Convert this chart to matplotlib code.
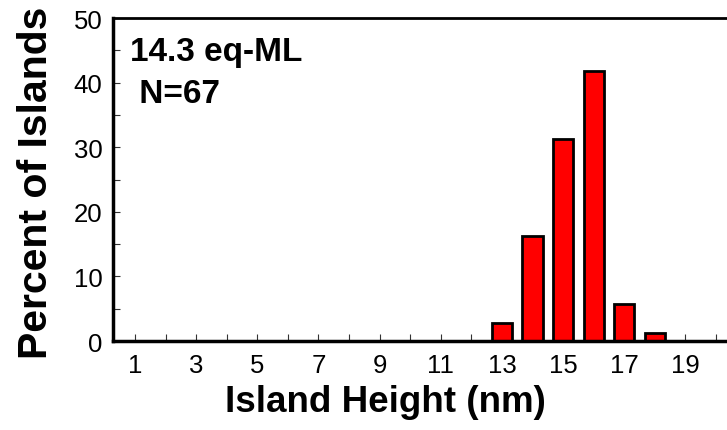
import matplotlib
matplotlib.use("Agg")
import matplotlib.pyplot as plt
from matplotlib.ticker import MultipleLocator

heights_nm = [13, 14, 15, 16, 17, 18]
percent = [2.8, 16.3, 31.2, 41.8, 5.8, 1.3]
x_major_ticks = [1, 3, 5, 7, 9, 11, 13, 15, 17, 19]
y_major_ticks = [0, 10, 20, 30, 40, 50]
label_line1 = "14.3 eq-ML"
label_line2 = " N=67"

plt.rcParams['font.family'] = ['Liberation Sans', 'DejaVu Sans']

W, H = 727, 431
fig = plt.figure(figsize=(W / 100, H / 100), dpi=100)
ax = fig.add_axes([113 / W, 1 - 342 / H, 1 - 113 / W, (342 - 19) / H])

ax.bar(heights_nm, percent, width=0.66, color='#ff0000', edgecolor='black', linewidth=2, zorder=2)

ax.set_xlim(0.28, 20.36)
ax.set_ylim(0, 50)
ax.set_xticks(x_major_ticks)
ax.set_yticks(y_major_ticks)
ax.xaxis.set_minor_locator(MultipleLocator(1))
ax.yaxis.set_minor_locator(MultipleLocator(5))
ax.tick_params(which='both', direction='in', length=5, width=0.8, color='#333333',
               labelsize=18.5)
ax.tick_params(axis='x', which='both', top=False, pad=8.5)
ax.tick_params(axis='y', which='both', right=False, pad=7.5)

for s in ['left', 'bottom']:
    ax.spines[s].set_linewidth(2.5)
ax.spines['top'].set_linewidth(2)
ax.spines['right'].set_visible(False)

fig.text(130 / W, 1 - 61 / H, label_line1, fontsize=24, fontweight='bold', ha='left', va='baseline')
fig.text(130 / W, 1 - 103 / H, label_line2, fontsize=24, fontweight='bold', ha='left', va='baseline')

fig.text(36 / W, 1 - 183 / H, "Percent of Islands", fontsize=29.5, fontweight='bold',
         rotation=90, ha='center', va='center')
fig.text(385 / W, 1 - 403 / H, "Island Height (nm)", fontsize=26.5, fontweight='bold',
         ha='center', va='center')

fig.savefig("out.png", dpi=100)
